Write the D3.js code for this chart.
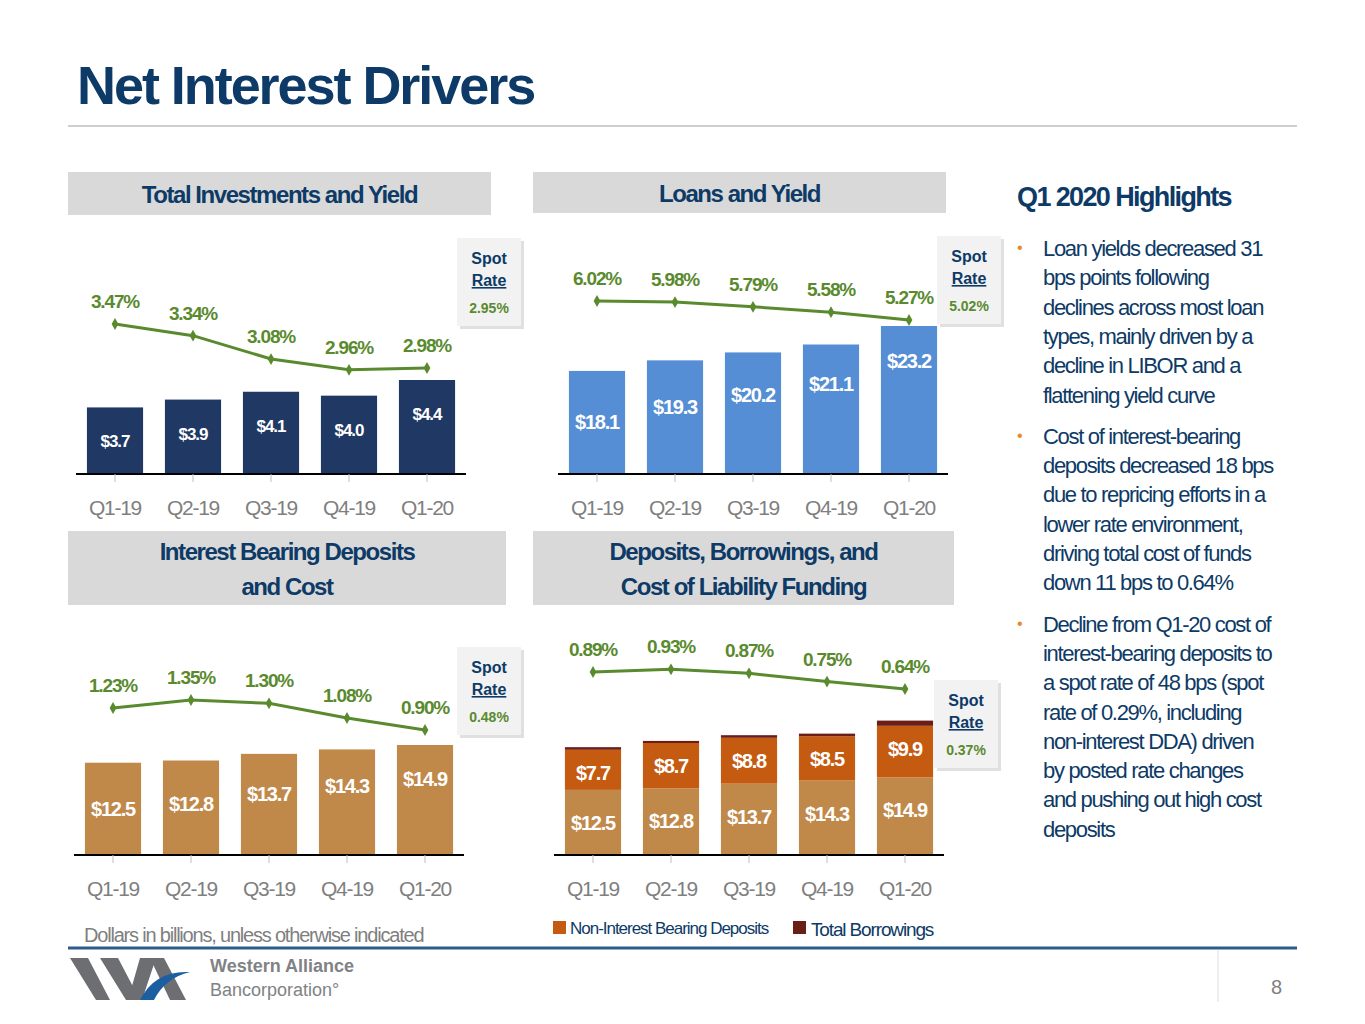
<!DOCTYPE html>
<html><head><meta charset="utf-8">
<script src="https://cdn.jsdelivr.net/npm/d3@7"></script>
<style>
body{margin:0;background:#fff;font-family:"Liberation Sans",Arial,sans-serif;}
.cond{font-family:"Liberation Sans",Arial,sans-serif;letter-spacing:-0.06em;}
</style></head><body>
<svg id="c" width="1365" height="1024"></svg>
<script>
const quarters = ["Q1-19","Q2-19","Q3-19","Q4-19","Q1-20"]
const investments = [3.7, 3.9, 4.1, 4.0, 4.4]
const investYield = [3.47, 3.34, 3.08, 2.96, 2.98]
const loans = [18.1, 19.3, 20.2, 21.1, 23.2]
const loanYield = [6.02, 5.98, 5.79, 5.58, 5.27]
const ibDeposits = [12.5, 12.8, 13.7, 14.3, 14.9]
const ibCost = [1.23, 1.35, 1.30, 1.08, 0.90]
const nibDeposits = [7.7, 8.7, 8.8, 8.5, 9.9]
const borrowings = [0.5, 0.4, 0.5, 0.5, 1.0]
const fundCost = [0.89, 0.93, 0.87, 0.75, 0.64]

const svg = d3.select("#c")
const navy = "#1f3864", green = "#5a8a2e", grey = "#7f7f7f"

svg.append("text").attr("x",77).attr("y",104).attr("class","cond")
  .attr("font-size",54).attr("font-weight","bold").attr("fill","#0d3a66").attr("textLength",456).text("Net Interest Drivers")
svg.append("line").attr("x1",68).attr("x2",1297).attr("y1",126).attr("y2",126).attr("stroke","#bfbfbf").attr("stroke-width",1.5)

const header = (x,w,y,h,lines) => {
  svg.append("rect").attr("x",x).attr("y",y).attr("width",w).attr("height",h).attr("fill","#d9d9d9")
  lines.forEach((t,i)=> svg.append("text").attr("class","cond").attr("x",x+w/2)
    .attr("y",y+h/2+9+(i-(lines.length-1)/2)*35).attr("text-anchor","middle")
    .attr("font-size",24).attr("font-weight","bold").attr("fill","#0d3a66").text(t))
}
header(68,423,172,43,["Total Investments and Yield"])
header(533,413,172,41,["Loans and Yield"])
header(68,438,531,74,["Interest Bearing Deposits","and Cost"])
header(533,421,531,74,["Deposits, Borrowings, and","Cost of Liability Funding"])

const spot = (x,y,val) => {
  svg.append("rect").attr("x",x+3).attr("y",y+3).attr("width",64).attr("height",88).attr("fill","#ccc").attr("opacity",0.6)
  svg.append("rect").attr("x",x).attr("y",y).attr("width",64).attr("height",88).attr("fill","#f2f2f2")
  svg.append("text").attr("x",x+32).attr("y",y+26).attr("text-anchor","middle").attr("font-size",16).attr("font-weight","bold").attr("fill","#0d3a66").text("Spot")
  svg.append("text").attr("x",x+32).attr("y",y+48).attr("text-anchor","middle").attr("font-size",16).attr("font-weight","bold").attr("fill","#0d3a66").attr("text-decoration","underline").text("Rate")
  svg.append("text").attr("x",x+32).attr("y",y+75).attr("text-anchor","middle").attr("font-size",14).attr("font-weight","bold").attr("fill",green).text(val)
}

function chart(o){
  const x = d3.scaleBand().domain(quarters).range([o.x0,o.x1]).paddingInner(0.28).paddingOuter(0.14)
  const y = d3.scaleLinear().domain(o.bDom).range([o.base,o.bTop]).clamp(true)
  const ly = d3.scaleLinear().domain(o.lDom).range(o.lRange)
  const g = svg.append("g")
  const cum = (si,i)=>o.stacks.slice(0,si).reduce((a,b)=>a+b[0][i],0)
  o.stacks.forEach((s,si)=>{
    g.selectAll(null).data(quarters).join("rect")
      .attr("x",d=>x(d)).attr("width",x.bandwidth())
      .attr("y",(d,i)=>y(cum(si+1,i)))
      .attr("height",(d,i)=>y(cum(si,i))-y(cum(si+1,i)))
      .attr("fill",s[1])
    if(s[2]) g.selectAll(null).data(quarters).join("text").attr("class","cond")
      .attr("x",d=>x(d)+x.bandwidth()/2)
      .attr("y",(d,i)=>s[2](y,i))
      .attr("text-anchor","middle").attr("font-size",o.lblSize).attr("font-weight","bold").attr("fill","#fff")
      .text((d,i)=>"$"+s[0][i].toFixed(1))
  })
  g.append("g").attr("transform",`translate(0,${o.base})`)
    .call(d3.axisBottom(x).tickSizeInner(8).tickSizeOuter(0).tickPadding(18))
    .call(a=>{a.select(".domain").attr("stroke","#000").attr("stroke-width",2).attr("d",`M${o.ax0},0H${o.ax1}`)
      a.selectAll(".tick line").attr("stroke","#bfbfbf")
      a.selectAll("text").attr("class","cond").attr("font-size",21).attr("fill",grey).attr("font-family","Liberation Sans")})
  const cx = d=>x(d)+x.bandwidth()/2
  g.append("path").datum(o.line).attr("fill","none").attr("stroke",green).attr("stroke-width",3)
    .attr("d",d3.line().x((d,i)=>cx(quarters[i])).y(d=>ly(d)))
  g.selectAll(null).data(o.line).join("path").attr("fill",green)
    .attr("d",d3.symbol(d3.symbolDiamond,40))
    .attr("transform",(d,i)=>`translate(${cx(quarters[i])},${ly(d)})`)
  g.selectAll(null).data(o.line).join("text").attr("class","cond")
    .attr("x",(d,i)=>cx(quarters[i])).attr("y",d=>ly(d)-16).attr("text-anchor","middle")
    .attr("font-size",19).attr("font-weight","bold").attr("fill",green).text(d=>d.toFixed(2)+"%")
}

chart({x0:76,x1:466,ax0:76,ax1:466,base:474,bDom:[2.0,4.4],bTop:380,lDom:[3.47,2.98],lRange:[324,368],lblSize:17,
  stacks:[[investments,navy,(y,i)=>y(investments[i])+40]],line:investYield})
chart({x0:558,x1:948,ax0:558,ax1:948,base:474,bDom:[6.4,23.2],bTop:326,lDom:[6.02,5.27],lRange:[301,320],lblSize:20,
  stacks:[[loans,"#558ed5",(y,i)=>y(loans[i])+58-i*4]],line:loanYield})
chart({x0:74,x1:464,ax0:74,ax1:464,base:855,bDom:[0,14.9],bTop:745,lDom:[1.23,0.90],lRange:[708,730],lblSize:20,
  stacks:[[ibDeposits,"#c0894a",(y,i)=>y(ibDeposits[i])+53-i*3]],line:ibCost})
chart({x0:554,x1:944,ax0:554,ax1:944,base:855,bDom:[0,26.3],bTop:718,lDom:[0.89,0.64],lRange:[672,689],lblSize:20,
  stacks:[[ibDeposits,"#c0894a",(y,i)=>y(ibDeposits[i])+40],
          [nibDeposits,"#c55a11",(y,i)=>y(ibDeposits[i]+nibDeposits[i])+30],
          [borrowings,"#6b1e16",null]],line:fundCost})

spot(457,238,"2.95%"); spot(937,236,"5.02%"); spot(457,647,"0.48%"); spot(934,680,"0.37%")

// legend + footnote
svg.append("rect").attr("x",553).attr("y",921).attr("width",13).attr("height",13).attr("fill","#c55a11")
svg.append("text").attr("class","cond").attr("x",570).attr("y",934).attr("font-size",17).attr("fill","#0d3a66").text("Non-Interest Bearing Deposits")
svg.append("rect").attr("x",793).attr("y",921).attr("width",13).attr("height",13).attr("fill","#6b1e16")
svg.append("text").attr("class","cond").attr("x",811).attr("y",936).attr("font-size",19).attr("fill","#0d3a66").text("Total Borrowings")
svg.append("text").attr("class","cond").attr("x",84).attr("y",942).attr("font-size",20).attr("fill",grey).text("Dollars in billions, unless otherwise indicated")
svg.append("line").attr("x1",68).attr("x2",1297).attr("y1",948).attr("y2",948).attr("stroke","#2e5c8a").attr("stroke-width",3)
svg.append("line").attr("x1",1218).attr("x2",1218).attr("y1",950).attr("y2",1002).attr("stroke","#ddd")
svg.append("text").attr("x",1282).attr("y",994).attr("text-anchor","end").attr("font-size",20).attr("fill",grey).text("8")

// logo
svg.append("path").attr("d","M70,958h18l22,42h-14zM100,958h18l22,42h-14zM140,958h16l-14,42h-14z").attr("fill","#6d6e71")
svg.append("path").attr("d","M150,958h14l22,42h-16z").attr("fill","#6d6e71")
svg.append("path").attr("d","M140,1000q15,-30 50,-28q-25,6 -36,28z").attr("fill","#1b5fa0")
svg.append("text").attr("x",210).attr("y",972).attr("font-size",18).attr("font-weight","bold").attr("fill","#808285").text("Western Alliance")
svg.append("text").attr("x",210).attr("y",996).attr("font-size",18).attr("fill","#808285").text("Bancorporation°")

// highlights
svg.append("text").attr("class","cond").attr("x",1017).attr("y",206).attr("font-size",27).attr("font-weight","bold").attr("fill","#0d3a66").text("Q1 2020 Highlights")
const bullets = [
  ["Loan yields decreased 31","bps points following","declines across most loan","types, mainly driven by a","decline in LIBOR and a","flattening yield curve"],
  ["Cost of interest-bearing","deposits decreased 18 bps","due to repricing efforts in a","lower rate environment,","driving total cost of funds","down 11 bps to 0.64%"],
  ["Decline from Q1-20 cost of","interest-bearing deposits to","a spot rate of 48 bps (spot","rate of 0.29%, including","non-interest DDA) driven","by posted rate changes","and pushing out high cost","deposits"]]
let by = 256
bullets.forEach(b=>{
  svg.append("text").attr("x",1017).attr("y",by-3).attr("font-size",16).attr("fill","#e58a2c").text("•")
  b.forEach((t,i)=>svg.append("text").attr("class","cond").attr("x",1043).attr("y",by+i*29.3).attr("font-size",22).attr("fill","#0d3a66").text(t))
  by += b.length*29.3 + 12
})
</script></body></html>
